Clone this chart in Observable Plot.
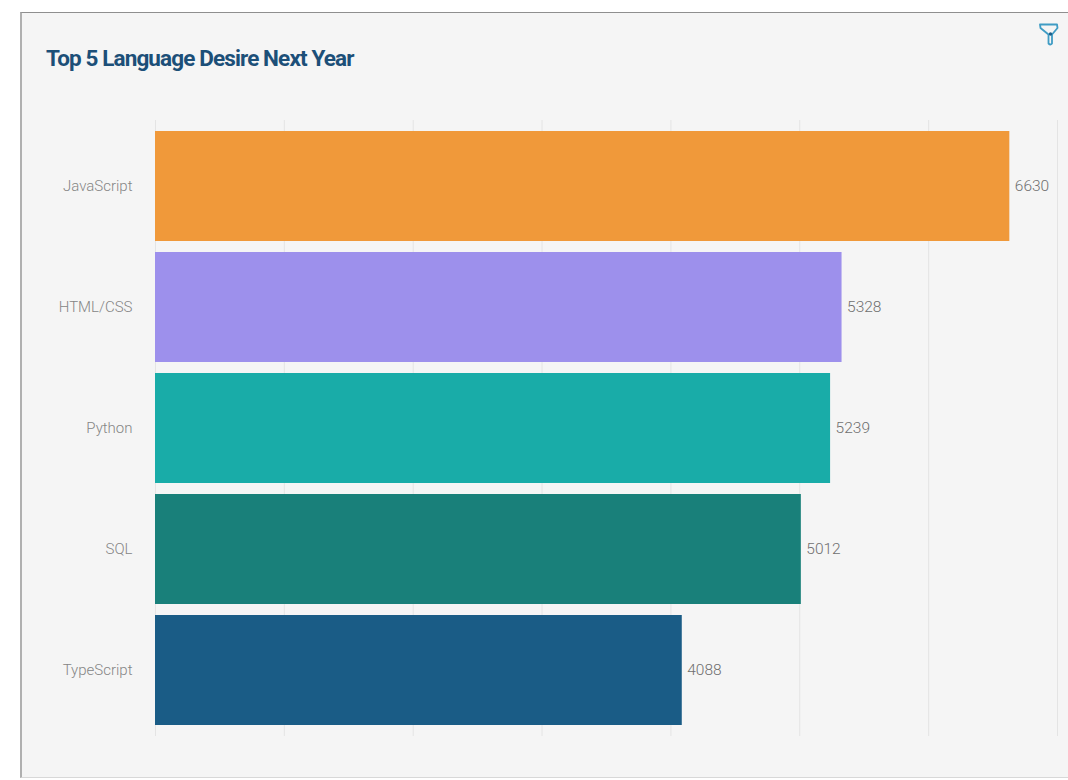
<!DOCTYPE html>
<html>
<head>
<meta charset="utf-8">
<script src="https://cdn.jsdelivr.net/npm/d3@7"></script>
<script src="https://cdn.jsdelivr.net/npm/@observablehq/plot@0.6"></script>
<style>
  html, body { margin: 0; padding: 0; background: #fff; width: 1068px; height: 780px; overflow: hidden; }
  #card { position: absolute; left: 20px; top: 12px; width: 1048px; height: 766px; box-sizing: border-box;
          background: #f5f5f5; border-top: 1px solid #8f8f8f; border-left: 2px solid #b0b0b0; border-bottom: 1px solid #d8d8d8; }
  #title { position: absolute; left: 46px; top: 44px; margin: 0; font: 700 22.5px/28px "Roboto", sans-serif;
           letter-spacing: -0.88px; color: #1c4f78; white-space: nowrap; }
  #filter { position: absolute; left: 1038px; top: 22px; }
  #chart { position: absolute; left: 0; top: 0; }
  #chart svg { background: transparent; display: block; }
</style>
</head>
<body>
<div id="card"></div>
<h1 id="title">Top 5 Language Desire Next Year</h1>
<svg id="filter" width="22" height="26" viewBox="0 0 22 26" fill="none">
  <path d="M2 2.5H19L19.5 6L14 12.5V21.5Q12.5 23.5 10.5 21.5V12.5L2.5 6Z" stroke="#3f9cc4" stroke-width="1.8" stroke-linejoin="round"/>
  <circle cx="12.5" cy="12" r="1.7" fill="#1c5f8a"/>
</svg>
<div id="chart"></div>
<script>
const languages = ["JavaScript", "HTML/CSS", "Python", "SQL", "TypeScript"];
const counts = [6630, 5328, 5239, 5012, 4088];
const colours = ["#f0993a", "#9d90ec", "#19aca8", "#19807a", "#1a5c86"];
const gridTicks = [0, 1000, 2000, 3000, 4000, 5000, 6000, 7000];

const rows = languages.map((language, i) => ({language, count: counts[i]}));

const chart = Plot.plot({
  width: 1068,
  height: 780,
  marginLeft: 155,
  marginRight: 11,
  marginTop: 120,
  marginBottom: 44,
  style: {background: "transparent", fontFamily: "Roboto, sans-serif"},
  x: {domain: [0, 7000], axis: null},
  y: {domain: languages, padding: 0.09, axis: null},
  color: {domain: languages, range: colours},
  marks: [
    Plot.ruleX(gridTicks, {stroke: "#e4e4e4", strokeWidth: 1}),
    Plot.barX(rows, {x: "count", y: "language", fill: "language"}),
    Plot.axisY({
      tickSize: 0, tickPadding: 23, label: null,
      fontSize: 15, fontWeight: 300, fill: "#858585"
    }),
    Plot.text(rows, {
      x: "count", y: "language", text: d => String(d.count),
      textAnchor: "start", dx: 5, fontSize: 15.5, fontWeight: 300, fill: "#6f6f6f",
      letterSpacing: 0.6
    })
  ]
});
document.getElementById("chart").appendChild(chart);
</script>
</body>
</html>
